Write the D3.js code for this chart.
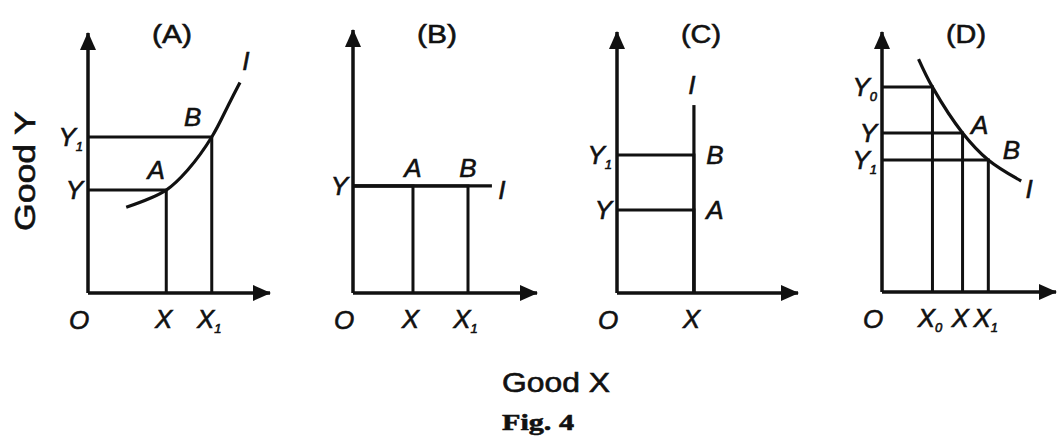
<!DOCTYPE html>
<html>
<head>
<meta charset="utf-8">
<script src="https://cdn.jsdelivr.net/npm/d3@7"></script>
<style>
  body { margin: 0; background: #fff; }
  svg text { font-family: "Liberation Sans", Arial, sans-serif; fill: #111; stroke: #111; stroke-width: 0.6px; }
  .lbl { font-style: italic; font-size: 26px; }
  .title { font-size: 26px; }
</style>
</head>
<body>
<div id="chart"></div>
<script>
// Panel titles
const titles = ["(A)", "(B)", "(C)", "(D)"];

// Indifference curve "I" of each panel (units of Good X, Good Y)
const curveA = [[21, 33], [43, 39.6], [55, 47.5], [68, 60], [78, 73.5], [83.5, 81]];
const curveB = [[0, 40.7], [75.5, 40.7]];
const curveC = [[42.5, 0], [42.5, 72]];
const curveD = [[21, 89.6], [29, 78.8], [46.3, 61.2], [61.1, 50.8], [80, 42.7]];

// Combinations on each curve, with their axis labels
const pointsA = [
  { name: "A", x: 43, y: 39.6, xl: "X", yl: "Y" },
  { name: "B", x: 68, y: 60, xl: "X1", yl: "Y1" }
];
const pointsB = [
  { name: "A", x: 32.6, y: 40.7, xl: "X", yl: "Y" },
  { name: "B", x: 62.5, y: 40.7, xl: "X1", yl: null }
];
const pointsC = [
  { name: "A", x: 42.5, y: 31.8, xl: "X", yl: "Y" },
  { name: "B", x: 42.5, y: 52.9, xl: null, yl: "Y1" }
];
const pointsD = [
  { name: "", x: 29, y: 78.8, xl: "X0", yl: "Y0" },
  { name: "A", x: 46.3, y: 61.2, xl: "X", yl: "Y" },
  { name: "B", x: 61.1, y: 50.8, xl: "X1", yl: "Y1" }
];

const curves = [curveA, curveB, curveC, curveD];
const pointSets = [pointsA, pointsB, pointsC, pointsD];

// Layout of each panel: origin and arrow tips, label offsets
const frames = [
  { ox: 88, oy: 293, xTip: 270, yTip: 33, off: { A: [-10, -20], B: [-19, -20], I: [6, -22] } },
  { ox: 353, oy: 293, xTip: 537, yTip: 30, off: { A: [0, -18], B: [0, -18], I: [10, 4] } },
  { ox: 617, oy: 293, xTip: 798, yTip: 32, off: { A: [21, 0], B: [21, 0], I: [-2, -20] } },
  { ox: 882, oy: 292, xTip: 1056, yTip: 32, off: { A: [17, -8], B: [23, -10], I: [8, 8] } }
];

const W = 1058, H = 439;
const ink = "#111";

const svg = d3.select("#chart")
  .append("svg")
  .attr("width", W)
  .attr("height", H);

svg.append("defs").append("marker")
  .attr("id", "arrow")
  .attr("viewBox", "-20 -10 22 20")
  .attr("refX", 0)
  .attr("refY", 0)
  .attr("markerWidth", 22)
  .attr("markerHeight", 20)
  .attr("markerUnits", "userSpaceOnUse")
  .attr("orient", "auto")
  .append("path")
  .attr("d", "M1,0L-17,-8L-17,8Z")
  .attr("fill", ink);

// write "X1" as X with subscript 1
function subLabel(textSel, label) {
  textSel.text("");
  textSel.append("tspan").text(label[0]);
  if (label.length > 1) {
    textSel.append("tspan")
      .attr("font-size", 13)
      .attr("dy", 5)
      .attr("dx", 0)
      .text(label.slice(1));
  }
}

frames.forEach((f, i) => {
  const x = d3.scaleLinear().domain([0, 100]).range([f.ox, f.xTip]);
  const y = d3.scaleLinear().domain([0, 100]).range([f.oy, f.yTip]);
  const pts = pointSets[i];
  const g = svg.append("g");

  // axes with arrows
  g.append("line")
    .attr("x1", x(0)).attr("y1", y(0))
    .attr("x2", x(0)).attr("y2", y(100))
    .attr("stroke", ink).attr("stroke-width", 3.5)
    .attr("marker-end", "url(#arrow)");
  g.append("line")
    .attr("x1", x(0)).attr("y1", y(0))
    .attr("x2", x(100)).attr("y2", y(0))
    .attr("stroke", ink).attr("stroke-width", 3.5)
    .attr("marker-end", "url(#arrow)");

  // drop lines from each point to the axes
  pts.forEach(p => {
    g.append("path")
      .attr("d", d3.line()([[x(0), y(p.y)], [x(p.x), y(p.y)], [x(p.x), y(0)]]))
      .attr("fill", "none")
      .attr("stroke", ink)
      .attr("stroke-width", 3);
  });

  // indifference curve
  const line = d3.line()
    .x(d => x(d[0]))
    .y(d => y(d[1]))
    .curve(d3.curveCatmullRom);
  g.append("path")
    .datum(curves[i])
    .attr("d", line)
    .attr("fill", "none")
    .attr("stroke", ink)
    .attr("stroke-width", 3.2);

  // tick labels on the x axis
  const xl = pts.filter(p => p.xl);
  const xAxis = g.append("g")
    .attr("transform", `translate(0,${y(0)})`)
    .call(d3.axisBottom(x).tickValues(xl.map(p => p.x)).tickSize(0).tickPadding(17).tickFormat(""));
  xAxis.select(".domain").remove();
  xAxis.selectAll(".tick text")
    .attr("class", "lbl")
    .attr("font-size", null)
    .attr("font-family", null)
    .attr("dx", -3)
    .each(function(d, j) { subLabel(d3.select(this), xl[j].xl); });

  // tick labels on the y axis
  const yl = pts.filter(p => p.yl);
  const yAxis = g.append("g")
    .attr("transform", `translate(${x(0)},0)`)
    .call(d3.axisLeft(y).tickValues(yl.map(p => p.y)).tickSize(0).tickPadding(5).tickFormat(""));
  yAxis.select(".domain").remove();
  yAxis.selectAll(".tick text")
    .attr("class", "lbl")
    .attr("font-size", null)
    .attr("font-family", null)
    .each(function(d, j) { subLabel(d3.select(this), yl[j].yl); });

  // origin
  g.append("text")
    .attr("class", "lbl")
    .attr("x", x(0) - 9)
    .attr("y", y(0) + 36)
    .attr("text-anchor", "middle")
    .text("O");

  // point names and curve label
  pts.filter(p => p.name).forEach(p => {
    const o = f.off[p.name];
    g.append("text")
      .attr("class", "lbl")
      .attr("x", x(p.x) + o[0])
      .attr("y", y(p.y) + o[1])
      .attr("dy", "0.35em")
      .attr("text-anchor", "middle")
      .text(p.name);
  });
  const end = curves[i][curves[i].length - 1];
  g.append("text")
    .attr("class", "lbl")
    .attr("x", x(end[0]) + f.off.I[0])
    .attr("y", y(end[1]) + f.off.I[1])
    .attr("dy", "0.35em")
    .attr("text-anchor", "middle")
    .text("I");

  // panel title
  g.append("text")
    .attr("class", "title")
    .attr("x", x(0) + 84)
    .attr("y", 43)
    .attr("text-anchor", "middle")
    .attr("textLength", 40)
    .attr("lengthAdjust", "spacingAndGlyphs")
    .text(titles[i]);
});

// axis titles
svg.append("text")
  .attr("transform", "translate(25,171) rotate(-90)")
  .attr("dy", "0.35em")
  .attr("text-anchor", "middle")
  .attr("font-size", 29)
  .attr("textLength", 120)
  .attr("lengthAdjust", "spacingAndGlyphs")
  .text("Good Y");

svg.append("text")
  .attr("x", 502)
  .attr("y", 392)
  .attr("font-size", 27)
  .attr("textLength", 108)
  .attr("lengthAdjust", "spacingAndGlyphs")
  .text("Good X");

svg.append("text")
  .attr("x", 502)
  .attr("y", 430)
  .attr("font-size", 24)
  .attr("font-weight", "bold")
  .style("font-family", "'Liberation Serif', 'Times New Roman', serif")
  .attr("textLength", 72)
  .attr("lengthAdjust", "spacingAndGlyphs")
  .text("Fig. 4");
</script>
</body>
</html>
